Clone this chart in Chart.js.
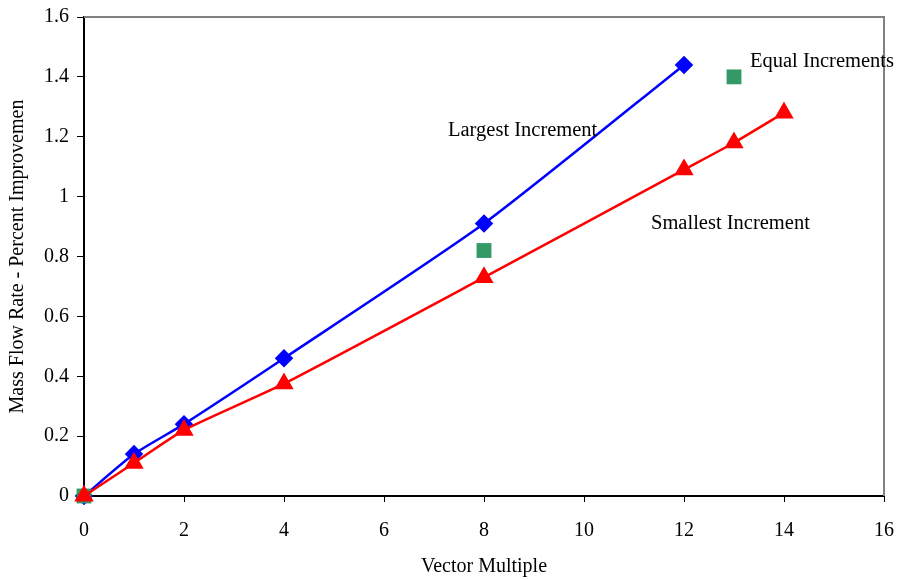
<!DOCTYPE html>
<html>
<head>
<meta charset="utf-8">
<script src="https://cdn.jsdelivr.net/npm/chart.js@4.4.0/dist/chart.umd.min.js"></script>
<style>
  html, body { margin: 0; padding: 0; background: #fff; }
  #box { width: 897px; height: 580px; }
</style>
</head>
<body>
<div id="box"><canvas id="flowChart" width="897" height="580"></canvas></div>
<script>
// values
var largestX = [0, 1, 2, 4, 8, 12];
var largestY = [0, 0.14, 0.24, 0.46, 0.91, 1.44];
var smallestX = [0, 1, 2, 4, 8, 12, 13, 14];
var smallestY = [0, 0.11, 0.22, 0.375, 0.73, 1.09, 1.18, 1.28];
var equalX = [0, 8, 13];
var equalY = [0, 0.82, 1.40];

// curve labels, placed in data units
var labelText = ["Largest Increment", "Equal Increments", "Smallest Increment"];
var labelX = [7.28, 13.32, 11.34];
var labelY = [1.22, 1.45, 0.91];

function toPoints(xs, ys)
{
    var pts = [];
    for (var i = 0; i < xs.length; i++)
    {
        pts.push({x: xs[i], y: ys[i]});
    }
    return pts;
}

var serif = "'Liberation Serif', 'Times New Roman', serif";

// grey top/right frame plus the text labels
var framePlugin = {
    id: 'framePlugin',
    afterDraw: function (chart) {
        var ctx = chart.ctx;
        var a = chart.chartArea;
        ctx.save();
        ctx.strokeStyle = '#808080';
        ctx.lineWidth = 2;
        ctx.beginPath();
        ctx.moveTo(a.left, a.top);
        ctx.lineTo(a.right, a.top);
        ctx.lineTo(a.right, a.bottom);
        ctx.stroke();
        ctx.fillStyle = '#000';
        ctx.font = "20.5px " + serif;
        ctx.textAlign = 'left';
        ctx.textBaseline = 'middle';
        for (var i = 0; i < labelText.length; i++)
        {
            var px = chart.scales.x.getPixelForValue(labelX[i]);
            var py = chart.scales.y.getPixelForValue(labelY[i]);
            ctx.fillText(labelText[i], px, py);
        }
        ctx.restore();
    }
};

var flowChart = new Chart(document.getElementById('flowChart'), {
    type: 'scatter',
    data: {
        datasets: [{
            label: 'Largest Increment',
            data: toPoints(largestX, largestY),
            showLine: true,
            borderColor: '#0000ff',
            backgroundColor: '#0000ff',
            borderWidth: 2.5,
            tension: 0.2,
            pointStyle: 'rectRot',
            pointRadius: 7.5,
            pointHoverRadius: 7.5,
            clip: false,
            order: 3
        },
        {
            label: 'Smallest Increment',
            data: toPoints(smallestX, smallestY),
            showLine: true,
            borderColor: '#ff0000',
            backgroundColor: '#ff0000',
            borderWidth: 2.5,
            tension: 0.2,
            pointStyle: 'triangle',
            pointRadius: 8.7,
            pointHoverRadius: 8.7,
            clip: false,
            order: 1
        },
        {
            label: 'Equal Increments',
            data: toPoints(equalX, equalY),
            showLine: false,
            borderColor: '#339966',
            backgroundColor: '#339966',
            borderWidth: 0,
            pointStyle: 'rect',
            pointRadius: 10.5,
            pointHoverRadius: 10.5,
            clip: false,
            order: 2
        }]
    },
    options: {
        responsive: false,
        animation: false,
        layout: {
            padding: {top: 17, right: 13, left: 0, bottom: 0}
        },
        plugins: {
            legend: {display: false},
            tooltip: {enabled: false}
        },
        scales: {
            x: {
                type: 'linear',
                min: 0,
                max: 16,
                afterFit: function (scale) {
                    scale.height = 84;
                    scale.paddingLeft = 0;
                    scale.paddingRight = 0;
                },
                ticks: {
                    stepSize: 2,
                    color: '#000',
                    padding: 17,
                    font: {family: serif, size: 20}
                },
                grid: {
                    drawOnChartArea: false,
                    color: '#000',
                    tickLength: 6
                },
                border: {color: '#000', width: 2},
                title: {
                    display: true,
                    text: 'Vector Multiple',
                    color: '#000',
                    padding: {top: 0, bottom: 1},
                    font: {family: serif, size: 20}
                }
            },
            y: {
                type: 'linear',
                min: 0,
                max: 1.6,
                afterFit: function (scale) {
                    scale.width = 84;
                    scale.paddingTop = 0;
                    scale.paddingBottom = 0;
                },
                ticks: {
                    stepSize: 0.2,
                    color: '#000',
                    padding: 8,
                    font: {family: serif, size: 20},
                    callback: function (v) { return Math.round(v * 10) / 10; }
                },
                grid: {
                    drawOnChartArea: false,
                    color: '#000',
                    tickLength: 7
                },
                border: {color: '#000', width: 2},
                title: {
                    display: true,
                    text: 'Mass Flow Rate - Percent Improvemen',
                    color: '#000',
                    padding: {top: 6, bottom: 0},
                    font: {family: serif, size: 20}
                }
            }
        }
    },
    plugins: [framePlugin]
});
</script>
</body>
</html>
